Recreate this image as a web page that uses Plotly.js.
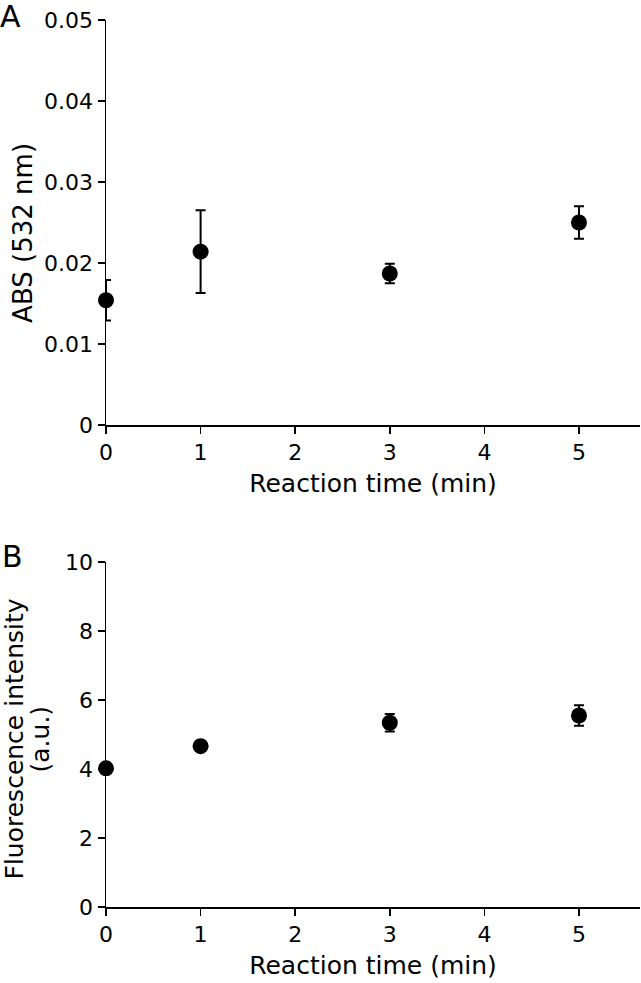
<!DOCTYPE html>
<html><head><meta charset="utf-8">
<script src="https://cdn.plot.ly/plotly-3.0.1.min.js"></script>
<style>html,body{margin:0;padding:0;background:#fff}</style>
</head><body><div id="chart" style="width:641px;height:983px"></div>
<script>
const timeA = [0, 1, 3, 5];
const absValues = [0.0154, 0.0214, 0.0187, 0.0250];
const absErrors = [0.0025, 0.0051, 0.0012, 0.0020];
const timeB = [0, 1, 3, 5];
const fluoValues = [4.02, 4.66, 5.34, 5.55];
const fluoErrors = [0.08, 0.08, 0.25, 0.30];
const xTicks = [0, 1, 2, 3, 4, 5];
const titleX = 'Reaction time (min)';
const titleYA = 'ABS (532 nm)';
const titleYB1 = 'Fluorescence intensity';
const titleYB2 = '(a.u.)';

const font = '"DejaVu Sans", Verdana, sans-serif';
const marker = {color: '#000', size: 16, symbol: 'circle'};
const errStyle = {type: 'data', visible: true, color: '#000', thickness: 2, width: 5};

const traces = [
  {x: timeA, y: absValues, type: 'scatter', mode: 'markers', marker: marker,
   error_y: Object.assign({array: absErrors}, errStyle), xaxis: 'x', yaxis: 'y', cliponaxis: false},
  {x: timeB, y: fluoValues, type: 'scatter', mode: 'markers', marker: marker,
   error_y: Object.assign({array: fluoErrors}, errStyle), xaxis: 'x2', yaxis: 'y2', cliponaxis: false}
];

const axCommon = {showline: true, linecolor: '#000', linewidth: 1.5, ticks: 'outside', ticklen: 7,
  tickwidth: 1.5, tickcolor: '#000', showgrid: false, zeroline: false,
  tickfont: {family: font, size: 22, color: '#000'}};
const tFont = {family: font, size: 25, color: '#000'};

const xr = [0, 5.645];
const layout = {
  width: 641, height: 983,
  margin: {l: 106, r: 1, t: 20, b: 76},
  paper_bgcolor: '#fff', plot_bgcolor: '#fff',
  showlegend: false,
  font: {family: font, color: '#000'},
  xaxis: Object.assign({}, axCommon, {range: xr, tickvals: xTicks, anchor: 'y', domain: [0, 1],
    title: {text: titleX, font: tFont, standoff: 10}}),
  yaxis: Object.assign({}, axCommon, {range: [0, 0.05], dtick: 0.01, anchor: 'x', domain: [0.5434, 1]}),
  xaxis2: Object.assign({}, axCommon, {range: xr, tickvals: xTicks, anchor: 'y2', domain: [0, 1],
    title: {text: titleX, font: tFont, standoff: 10}}),
  yaxis2: Object.assign({}, axCommon, {range: [0, 10], dtick: 2, anchor: 'x2', domain: [0, 0.389]}),
  annotations: [
    {text: titleYA, xref: 'paper', yref: 'paper', x: -0.1554, y: 0.760, textangle: -90,
     xanchor: 'center', yanchor: 'middle', showarrow: false, font: {family: font, size: 26, color: '#000'}},
    {text: titleYB1, xref: 'paper', yref: 'paper', x: -0.1723, y: 0.190, textangle: -90,
     xanchor: 'center', yanchor: 'middle', showarrow: false, font: tFont},
    {text: titleYB2, xref: 'paper', yref: 'paper', x: -0.1236, y: 0.190, textangle: -90,
     xanchor: 'center', yanchor: 'middle', showarrow: false, font: tFont},
    {text: 'A', xref: 'paper', yref: 'paper', x: -0.178, y: 1.0034, xanchor: 'center', yanchor: 'middle',
     showarrow: false, font: {family: font, size: 30, color: '#000'}},
    {text: 'B', xref: 'paper', yref: 'paper', x: -0.175, y: 0.395, xanchor: 'center', yanchor: 'middle',
     showarrow: false, font: {family: font, size: 30, color: '#000'}}
  ]
};

Plotly.newPlot('chart', traces, layout, {displayModeBar: false, staticPlot: true});
</script></body></html>
